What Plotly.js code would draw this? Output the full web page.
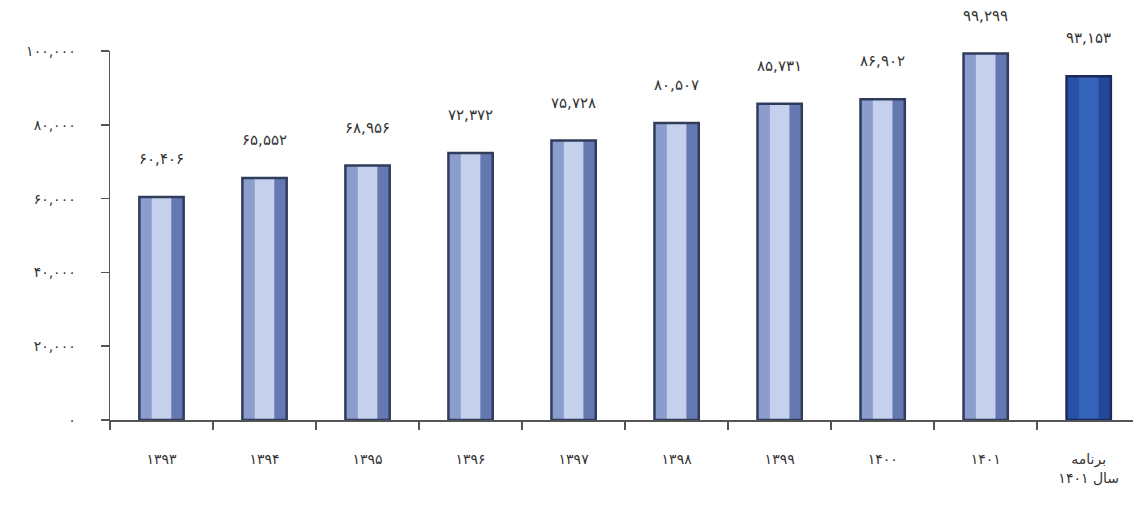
<!DOCTYPE html>
<html>
<head>
<meta charset="utf-8">
<script src="https://cdn.plot.ly/plotly-3.0.1.min.js"></script>
<style>html,body{margin:0;padding:0;background:#fff;}#chart{width:1133px;height:508px;}</style>
</head>
<body>
<div id="chart"></div>
<script>
const categories = ["۱۳۹۳","۱۳۹۴","۱۳۹۵","۱۳۹۶","۱۳۹۷","۱۳۹۸","۱۳۹۹","۱۴۰۰","۱۴۰۱","برنامه<br>سال ۱۴۰۱"];
const values = [60406, 65552, 68956, 72372, 75728, 80507, 85731, 86902, 99299, 93153];
const valueLabels = ["۶۰,۴۰۶","۶۵,۵۵۲","۶۸,۹۵۶","۷۲,۳۷۲","۷۵,۷۲۸","۸۰,۵۰۷","۸۵,۷۳۱","۸۶,۹۰۲","۹۹,۲۹۹","۹۳,۱۵۳"];
const yTickVals = [0, 20000, 40000, 60000, 80000, 100000];
const yTickText = ["۰","۲۰,۰۰۰","۴۰,۰۰۰","۶۰,۰۰۰","۸۰,۰۰۰","۱۰۰,۰۰۰"];

const last = categories.length - 1;
const pick = (a, b) => categories.map((c, i) => i === last ? b : a);

const W = 0.43;
const traces = [
  {type:'bar', x:categories, y:values, width:W, marker:{color:pick('#6479b2','#24479a'), line:{width:0}}, hoverinfo:'skip'},
  {type:'bar', x:categories, y:values, width:W/2, offset:-W/2, marker:{color:pick('#8b9dcd','#2a52a4'), line:{width:0}}, hoverinfo:'skip'},
  {type:'bar', x:categories, y:values, width:0.19, offset:-0.095, marker:{color:pick('#c4d0ec','#3565b8'), line:{width:0}}, hoverinfo:'skip'},
  {type:'bar', x:categories, y:values, width:W, marker:{color:'rgba(0,0,0,0)', line:{width:2.5, color:pick('#303c5c','#1a2a5c')}}, hoverinfo:'skip'}
];

const annotations = categories.map((c, i) => ({
  x: c, y: values[i], xref:'x', yref:'y', text: valueLabels[i], showarrow:false,
  yanchor:'bottom', yshift: 27, font:{family:'DejaVu Sans', size:15, color:'#333'}
}));

const layout = {
  width:1133, height:508,
  margin:{l:110, r:0, t:51, b:88, pad:0},
  paper_bgcolor:'#fff', plot_bgcolor:'#fff',
  barmode:'overlay', showlegend:false,
  font:{family:'DejaVu Sans', size:14, color:'#333'},
  xaxis:{type:'category', range:[-0.5, 9.43], showgrid:false, zeroline:false,
    showline:true, linecolor:'#555', linewidth:1.5, ticks:'outside', tickson:'boundaries',
    ticklen:8, tickcolor:'#555', tickwidth:1.5, ticklabelstandoff:26,
    tickfont:{family:'DejaVu Sans', size:14, color:'#333'}},
  yaxis:{range:[0,100000], tickvals:yTickVals, ticktext:yTickText, showgrid:false, zeroline:false,
    showline:true, linecolor:'#555', linewidth:1.5, ticks:'outside', ticklen:8, tickcolor:'#555', tickwidth:1.5,
    ticklabelstandoff:22, tickfont:{family:'DejaVu Sans', size:14, color:'#333'}},
  annotations: annotations
};

Plotly.newPlot('chart', traces, layout, {staticPlot:true, displayModeBar:false});
</script>
</body>
</html>
